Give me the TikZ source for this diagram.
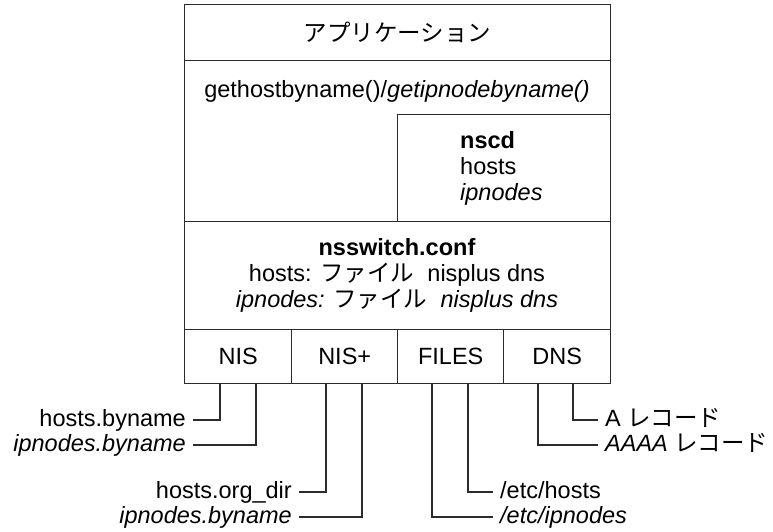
\documentclass[tikz,border=0pt]{standalone}
\usepackage{fontspec}
\setmainfont{Liberation Sans}
\newfontfamily\jp{Noto Sans CJK JP}
\definecolor{linec}{HTML}{2B2B2B}
\begin{document}
\begin{tikzpicture}[x=1pt,y=-1pt,
  box/.style={draw=linec, line width=1.4pt, inner sep=0pt, anchor=north west,
              font=\fontsize{23.5}{26}\selectfont},
  txt/.style={inner sep=0pt, font=\fontsize{23.5}{26}\selectfont, text=black},
  lab/.style={txt, text height=17pt, text depth=5pt, inner xsep=7pt},
  conn/.style={draw=linec, line width=1.4pt}]
\useasboundingbox (0,0) rectangle (773,531);

% main stack
\node[box, minimum width=426pt, minimum height=56pt] (app) at (184,4) {\jp アプリケーション};
\node[box, minimum width=426pt, minimum height=161pt] (mid) at (184,60) {};
\node[txt, anchor=base] (gh) at (397,97) {gethostbyname()/\textit{getipnodebyname()}};
\node[box, minimum width=213pt, minimum height=107pt] (nscdbox) at (397,114) {};
\node[txt, anchor=base west] (nscd) at (460,148) {\textbf{nscd}};
\node[txt, anchor=base west] (nh) at (460,174) {hosts};
\node[txt, anchor=base west] (ni) at (460,200) {\textit{ipnodes}};
\node[box, minimum width=426pt, minimum height=108pt] (nss) at (184,221) {};
\node[txt, anchor=base] (nssa) at (397,255) {\textbf{nsswitch.conf}};
\node[txt, anchor=base] (nssb) at (397,281) {hosts: {\jp ファイル}\ \ nisplus dns};
\node[txt, anchor=base] (nssc) at (397,307) {\textit{ipnodes:} {\jp ファイル}\ \ \textit{nisplus dns}};

% sources
\node[box, minimum width=107pt, minimum height=54pt] (nis) at (184,329) {NIS};
\node[box, minimum width=106pt, minimum height=54pt] (nisp) at (291,329) {NIS+};
\node[box, minimum width=106pt, minimum height=54pt] (files) at (397,329) {FILES};
\node[box, minimum width=107pt, minimum height=54pt] (dns) at (503,329) {DNS};

% tick points on the bottom of the source row
\coordinate (t1) at (220,383);
\coordinate (t2) at (256,383);
\coordinate (t3) at (326,383);
\coordinate (t4) at (362,383);
\coordinate (t5) at (432,383);
\coordinate (t6) at (468,383);
\coordinate (t7) at (538,383);
\coordinate (t8) at (573,383);

% labels
\node[lab, anchor=east] (hb) at (193,420) {hosts.byname};
\node[lab, anchor=east] (ib) at (193,445) {\textit{ipnodes.byname}};
\node[lab, anchor=east] (ho) at (299,492) {hosts.org\_dir};
\node[lab, anchor=east] (ib2) at (299,517) {\textit{ipnodes.byname}};
\node[lab, anchor=west] (eh) at (493,492) {/etc/hosts};
\node[lab, anchor=west] (ei) at (493,517) {\textit{/etc/ipnodes}};
\node[lab, anchor=west] (ar) at (598,420) {A {\jp レコード}};
\node[lab, anchor=west] (aaaa) at (598,445) {\textit{AAAA} {\jp レコード}};

% connectors
\draw[conn] (hb.east) -| (t1);
\draw[conn] (ib.east) -| (t2);
\draw[conn] (ho.east) -| (t3);
\draw[conn] (ib2.east) -| (t4);
\draw[conn] (ei.west) -| (t5);
\draw[conn] (eh.west) -| (t6);
\draw[conn] (aaaa.west) -| (t7);
\draw[conn] (ar.west) -| (t8);
\end{tikzpicture}
\end{document}
